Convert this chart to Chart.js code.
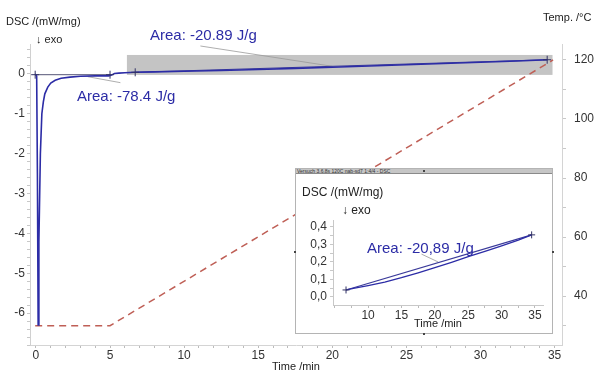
<!DOCTYPE html>
<html><head><meta charset="utf-8">
<script src="https://cdn.jsdelivr.net/npm/chart.js@4/dist/chart.umd.min.js"></script>
<style>
html,body{margin:0;padding:0;background:#fff;}
#wrap{position:relative;width:600px;height:380px;font-family:"Liberation Sans",Arial,sans-serif;}
#main{position:absolute;left:0;top:0;}
#inset{position:absolute;left:295px;top:168px;width:258px;height:166px;background:#fff;border:1px solid #b4b4b4;box-sizing:border-box;}
#bar{position:absolute;left:0;top:0;right:0;height:5px;background:#c6c6c6;border-bottom:1px solid #8a8a8a;font-size:5px;line-height:5px;color:#333;white-space:nowrap;overflow:hidden;padding-left:1px;box-sizing:border-box;}
#insetCanvas{position:absolute;left:0;top:5px;}
.dot{position:absolute;width:2px;height:2px;background:#444;}
</style></head>
<body>
<div id="wrap">
  <canvas id="main" width="600" height="380"></canvas>
  <div id="inset">
    <div id="bar">Versuch 3.6.8s 120C nab-sd7 1:4/4 - DSC</div>
    <canvas id="insetCanvas" width="256" height="159"></canvas>
    <div class="dot" style="left:-2px;top:82px"></div>
    <div class="dot" style="right:-2px;top:82px"></div>
    <div class="dot" style="left:127px;bottom:-2px"></div>
    <div class="dot" style="left:127px;top:1px"></div>
  </div>
</div>
<script>
// ---------- data ----------
const dscTime  = [-0.05, 0.05, 0.1, 0.15, 0.2, 0.3, 0.4, 0.5, 0.6, 0.8, 1.0, 1.3, 1.7, 2.3, 3.0, 4.0, 4.9, 5.1, 5.3, 5.6, 6.0, 6.7, 8.0, 10.0, 12.5, 15.0, 17.5, 20.0, 22.5, 25.0, 27.5, 30.0, 32.5, 34.5];
const dscValue = [0.0, -0.05, -2.5, -6.3, -4.2, -2.0, -1.0, -0.7, -0.5, -0.33, -0.23, -0.16, -0.11, -0.08, -0.06, -0.05, -0.05, -0.03, 0.01, 0.02, 0.03, 0.04, 0.05, 0.065, 0.085, 0.11, 0.138, 0.168, 0.198, 0.23, 0.26, 0.292, 0.325, 0.355];
const tempTime  = [-0.05, 5.0, 34.9];
const tempValue = [30, 30, 120];
const base1Time  = [-0.05, 5.0];
const base1Value = [-0.02, -0.02];
const base2Time  = [6.7, 34.5];
const base2Value = [0.04, 0.355];
const markTime  = [-0.05, 5.0, 6.7, 34.5];
const markValue = [-0.02, -0.02, 0.04, 0.355];
const leader1Time  = [3.5, 5.7];
const leader1Value = [-0.07, -0.22];
const leader2Time  = [11.1, 20.0];
const leader2Value = [0.7, 0.19];
const zoomBoxTime  = [6.14, 34.86];
const zoomBoxValue = [-0.025, 0.475];
const insetLeaderTime  = [18.0, 20.5];
const insetLeaderValue = [0.245, 0.2];

const xMajor = [0, 5, 10, 15, 20, 25, 30, 35];
const yMajor = [-6, -5, -4, -3, -2, -1, 0];
const tMajor = [40, 60, 80, 100, 120];
const insetXMajor = [10, 15, 20, 25, 30, 35];
const insetYMajor = [0.0, 0.1, 0.2, 0.3, 0.4];

const areaMain1 = 'Area: -20.89 J/g';
const areaMain2 = 'Area: -78.4 J/g';
const areaInset = 'Area: -20,89 J/g';

// ---------- helpers ----------
const pts = (xs, ys) => xs.map((v, i) => ({x: v, y: ys[i]}));
const steps = (a, b, s) => { const r = []; for (let v = a; v <= b + 1e-9; v += s) r.push(Math.round(v * 1000) / 1000); return r; };
const FONT = '"Liberation Sans", Arial, sans-serif';
const BLUE = '#2c2ca6';
const tickFont = {family: FONT, size: 12};

const mainPlugin = {
  id: 'mainDeco',
  beforeDatasetsDraw(chart) {
    const {ctx, scales: {x, y}} = chart;
    const x0 = x.getPixelForValue(zoomBoxTime[0]), x1 = x.getPixelForValue(zoomBoxTime[1]);
    const y0 = y.getPixelForValue(zoomBoxValue[1]), y1 = y.getPixelForValue(zoomBoxValue[0]);
    ctx.save(); ctx.fillStyle = '#c4c4c4'; ctx.fillRect(x0, y0, x1 - x0, y1 - y0); ctx.restore();
  },
  afterDraw(chart) {
    const ctx = chart.ctx;
    ctx.save();
    ctx.textBaseline = 'middle';
    ctx.fillStyle = '#222';
    ctx.font = '11px ' + FONT;
    ctx.textAlign = 'left';
    ctx.fillText('DSC /(mW/mg)', 6, 22);
    ctx.fillText('\u2193 exo', 36, 40);
    ctx.fillText('Temp. /\u00B0C', 543, 18);
    ctx.textAlign = 'center';
    ctx.fillText('Time /min', 296, 367);
    ctx.fillStyle = BLUE;
    ctx.font = '15px ' + FONT;
    ctx.textAlign = 'left';
    ctx.fillText(areaMain1, 150, 36);
    ctx.fillText(areaMain2, 77, 97);
    ctx.restore();
  }
};

new Chart(document.getElementById('main'), {
  type: 'line',
  data: {
    datasets: [
      {data: pts(markTime, markValue), yAxisID: 'y', showLine: false, pointStyle: 'cross', pointRadius: 4, borderColor: '#333366', borderWidth: 1},
      {data: pts(dscTime, dscValue), yAxisID: 'y', borderColor: BLUE, borderWidth: 1.6, pointRadius: 0, tension: 0},
      {data: pts(base1Time, base1Value), yAxisID: 'y', borderColor: '#555577', borderWidth: 1, pointRadius: 0},
      {data: pts(base2Time, base2Value), yAxisID: 'y', borderColor: '#3a3a9a', borderWidth: 1, pointRadius: 0},
      {data: pts(leader1Time, leader1Value), yAxisID: 'y', borderColor: '#999', borderWidth: 0.8, pointRadius: 0},
      {data: pts(leader2Time, leader2Value), yAxisID: 'y', borderColor: '#999', borderWidth: 0.8, pointRadius: 0, clip: false},
      {data: pts(tempTime, tempValue), yAxisID: 'y2', borderColor: '#bf5f56', borderWidth: 1.5, borderDash: [7, 5], pointRadius: 0}
    ]
  },
  options: {
    responsive: false, animation: false, events: [],
    layout: {padding: {top: 44, left: 0, right: 0, bottom: 0}},
    plugins: {legend: {display: false}, tooltip: {enabled: false}},
    scales: {
      x: {
        type: 'linear', min: -0.4, max: 35.5,
        afterFit: s => { s.height = 35; },
        afterBuildTicks: s => { s.ticks = steps(0, 35, 1).map(v => ({value: v})); },
        ticks: {autoSkip: false, maxRotation: 0, padding: 0, color: '#333', font: tickFont,
          callback: v => xMajor.includes(v) ? String(v) : ''},
        grid: {drawOnChartArea: false, drawTicks: true, tickLength: 3, color: '#bbb'},
        border: {display: true, color: '#d4d4d4'}
      },
      y: {
        type: 'linear', position: 'left', min: -6.8, max: 0.75,
        afterFit: s => { s.width = 30; },
        afterBuildTicks: s => { s.ticks = steps(-6.8, 0.6, 0.2).map(v => ({value: v})); },
        ticks: {autoSkip: false, padding: 2, color: '#333', font: tickFont,
          callback: v => yMajor.includes(v) ? String(v) : ''},
        grid: {drawOnChartArea: false, drawTicks: true, tickLength: 3, color: '#c8c8c8'},
        border: {display: true, color: '#d0d0d0', dash: [2, 2]}
      },
      y2: {
        type: 'linear', position: 'right', min: 23.46, max: 125.4,
        afterFit: s => { s.width = 38; },
        afterBuildTicks: s => { s.ticks = steps(30, 120, 10).map(v => ({value: v})); },
        ticks: {autoSkip: false, padding: 8, color: '#333', font: tickFont,
          callback: v => tMajor.includes(v) ? String(v) : ''},
        grid: {drawOnChartArea: false, drawTicks: true, tickLength: 4, color: '#c8c8c8'},
        border: {display: true, color: '#d4d4d4'}
      }
    }
  },
  plugins: [mainPlugin]
});

// ---------- inset ----------
const insetCurve = dscTime.map((t, i) => ({x: t, y: dscValue[i]})).filter(p => p.x >= 6.7);
const insetPlugin = {
  id: 'insetDeco',
  afterDraw(chart) {
    const ctx = chart.ctx;
    ctx.save();
    ctx.textBaseline = 'middle';
    ctx.fillStyle = '#222';
    ctx.font = '12px ' + FONT;
    ctx.textAlign = 'left';
    ctx.fillText('DSC /(mW/mg)', 6, 19);
    ctx.fillText('\u2193 exo', 46, 37);
    ctx.font = '11px ' + FONT;
    ctx.textAlign = 'center';
    ctx.fillText('Time /min', 142, 150);
    ctx.fillStyle = BLUE;
    ctx.font = '15px ' + FONT;
    ctx.textAlign = 'left';
    ctx.fillText(areaInset, 71, 75);
    ctx.restore();
  }
};

new Chart(document.getElementById('insetCanvas'), {
  type: 'line',
  data: {
    datasets: [
      {data: pts([base2Time[0], base2Time[1]], [base2Value[0], base2Value[1]]), showLine: false, pointStyle: 'cross', pointRadius: 3.5, borderColor: '#333366', borderWidth: 1},
      {data: insetCurve, borderColor: BLUE, borderWidth: 1.3, pointRadius: 0},
      {data: pts(base2Time, base2Value), borderColor: '#3a3a9a', borderWidth: 1.1, pointRadius: 0},
      {data: pts(insetLeaderTime, insetLeaderValue), borderColor: '#999', borderWidth: 0.8, pointRadius: 0}
    ]
  },
  options: {
    responsive: false, animation: false, events: [],
    layout: {padding: {top: 46, right: 9, left: 0, bottom: 0}},
    plugins: {legend: {display: false}, tooltip: {enabled: false}},
    scales: {
      x: {
        type: 'linear', min: 4.75, max: 36.2,
        afterFit: s => { s.height = 28; },
        afterBuildTicks: s => { s.ticks = steps(5, 35, 2.5).map(v => ({value: v})); },
        ticks: {autoSkip: false, maxRotation: 0, padding: 0, color: '#333', font: tickFont,
          callback: v => insetXMajor.includes(v) ? String(v) : ''},
        grid: {drawOnChartArea: false, drawTicks: true, tickLength: 3, color: '#bbb'},
        border: {display: true, color: '#c8c8c8'}
      },
      y: {
        type: 'linear', min: -0.046, max: 0.44,
        afterFit: s => { s.width = 37; },
        afterBuildTicks: s => { s.ticks = steps(-0.0, 0.4, 0.05).map(v => ({value: v})); },
        ticks: {autoSkip: false, padding: 3, color: '#333', font: tickFont,
          callback: v => insetYMajor.includes(v) ? v.toFixed(1).replace('.', ',') : ''},
        grid: {drawOnChartArea: false, drawTicks: true, tickLength: 3, color: '#c8c8c8'},
        border: {display: true, color: '#c8c8c8', dash: [2, 2]}
      }
    }
  },
  plugins: [insetPlugin]
});
</script>
</body></html>
